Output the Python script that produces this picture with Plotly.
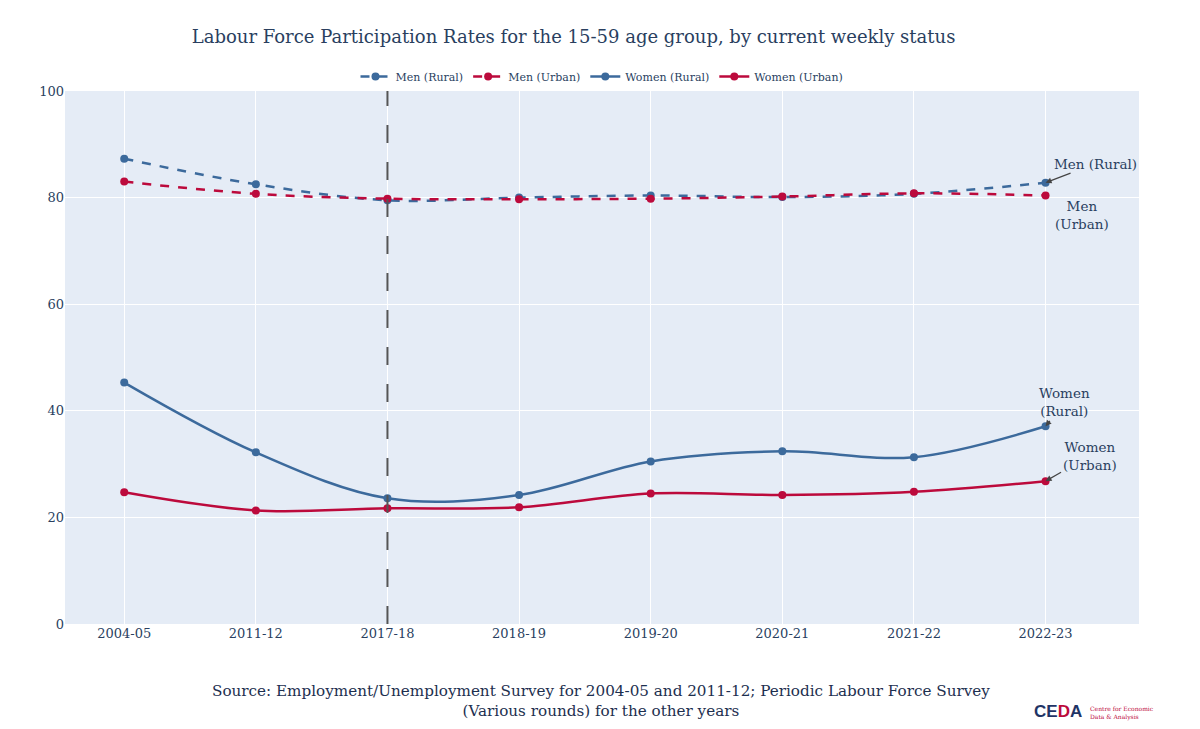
import plotly.graph_objects as go

years = ["2004-05", "2011-12", "2017-18", "2018-19", "2019-20", "2020-21", "2021-22", "2022-23"]
men_rural = [87.3, 82.5, 79.5, 80.0, 80.4, 80.1, 80.7, 82.8]
men_urban = [83.0, 80.7, 79.8, 79.7, 79.8, 80.2, 80.8, 80.4]
women_rural = [45.3, 32.2, 23.6, 24.2, 30.5, 32.4, 31.3, 37.1]
women_urban = [24.7, 21.3, 21.7, 21.9, 24.5, 24.2, 24.8, 26.8]

BLUE = "#3C6A9C"
RED = "#BC0A3C"
FONT = "DejaVu Serif"
TXT = "#2a3f5f"

fig = go.Figure()
series = [
    ("Men (Rural)", men_rural, BLUE, "dash"),
    ("Men (Urban)", men_urban, RED, "dash"),
    ("Women (Rural)", women_rural, BLUE, "solid"),
    ("Women (Urban)", women_urban, RED, "solid"),
]
for name, vals, col, dash in series:
    fig.add_trace(go.Scatter(
        x=years, y=vals, name=name, mode="lines+markers",
        line=dict(color=col, width=2.5, dash=dash, shape="spline"),
        marker=dict(color=col, size=8),
    ))

fig.add_shape(type="line", xref="x", yref="paper", x0="2017-18", x1="2017-18", y0=0, y1=1,
              line=dict(color="#555555", width=2, dash="18px,19px"))

anns = [
    dict(x="2022-23", y=men_rural[-1], text="Men (Rural)", ax=50, ay=-19, showarrow=True),
    dict(x="2022-23", y=men_urban[-1], text="Men<br>(Urban)", showarrow=False, xshift=36, yshift=-20),
    dict(x="2022-23", y=women_rural[-1], text="Women<br>(Rural)", ax=19, ay=-24, showarrow=True),
    dict(x="2022-23", y=women_urban[-1], text="Women<br>(Urban)", ax=44, ay=-25, showarrow=True),
]
for a in anns:
    fig.add_annotation(xref="x", yref="y", arrowhead=2, arrowsize=1, arrowwidth=1.2,
                       arrowcolor="#444444", font=dict(family=FONT, size=13.5, color=TXT), **a)

fig.add_annotation(xref="paper", yref="paper", x=0.4994, y=-0.105, xanchor="center", yanchor="top",
                   showarrow=False, align="center",
                   text="Source: Employment/Unemployment Survey for 2004-05 and 2011-12; Periodic Labour Force Survey<br>(Various rounds) for the other years",
                   font=dict(family=FONT, size=15.2, color="#1d2f4f"))

fig.add_annotation(xref="paper", yref="paper", x=0.900, y=-0.143, xanchor="left", yanchor="top",
                   showarrow=False, text="<b>CE<span style='color:#BC0A3C'>D</span>A</b>",
                   font=dict(family="Liberation Sans", size=17, color="#1f3466"))
fig.add_annotation(xref="paper", yref="paper", x=0.9525, y=-0.148, xanchor="left", yanchor="top",
                   showarrow=False, align="left", text="Centre for Economic<br>Data & Analysis",
                   font=dict(family=FONT, size=6, color="#BC0A3C"))

fig.update_layout(
    width=1200, height=729,
    margin=dict(l=65, r=61, t=91, b=105),
    plot_bgcolor="#E5ECF6", paper_bgcolor="white",
    title=dict(text="Labour Force Participation Rates for the 15-59 age group, by current weekly status",
               x=0.478, xanchor="center", y=0.95, yanchor="middle",
               font=dict(family=FONT, size=18, color=TXT)),
    legend=dict(orientation="h", x=0.5, xanchor="center", y=1.0, yanchor="bottom",
                bgcolor="white", font=dict(family=FONT, size=11, color=TXT)),
    xaxis=dict(type="category", range=[-0.45, 7.71], showgrid=True, gridcolor="white",
               tickfont=dict(family=FONT, size=13, color=TXT), zeroline=False, ticks=""),
    yaxis=dict(range=[0, 100], dtick=20, showgrid=True, gridcolor="white", gridwidth=1,
               tickfont=dict(family=FONT, size=13, color=TXT), zeroline=False),
    font=dict(family=FONT, color=TXT),
)

fig.write_html("out.html", config={"displayModeBar": False},
               post_script="document.body.style.margin='0';")
